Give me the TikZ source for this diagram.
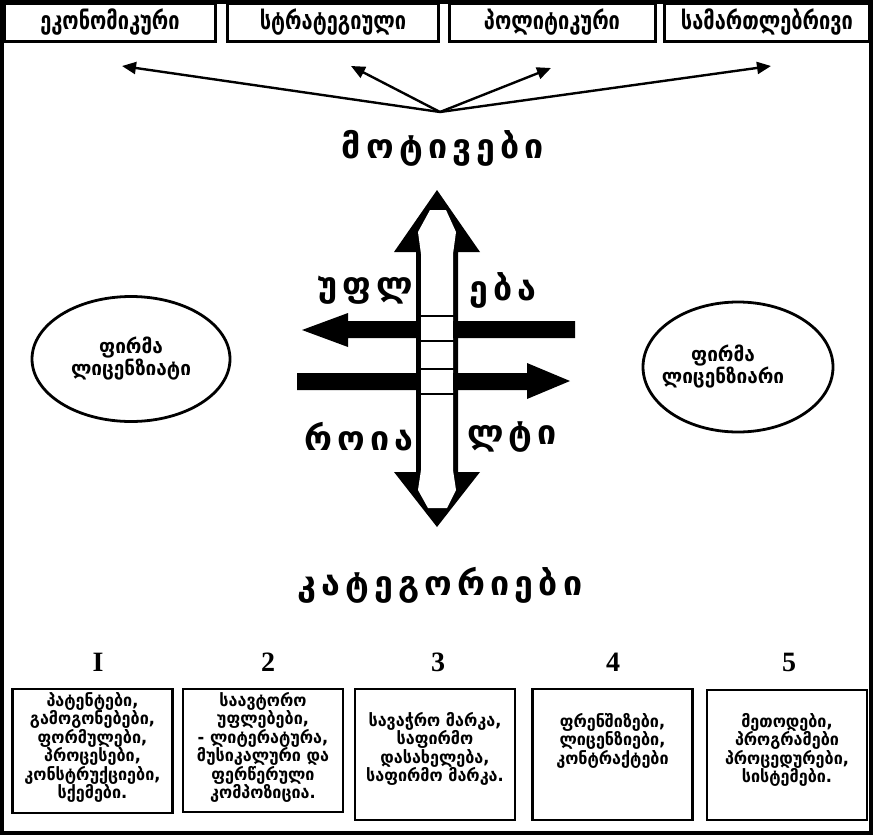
\documentclass[tikz,border=0pt]{standalone}
\usepackage{fontspec}
\setmainfont{DejaVu Sans}
\newfontfamily\geofont[FakeStretch=0.8]{DejaVu Sans}
\newfontfamily\geotext[FakeStretch=0.95]{DejaVu Sans}
\newfontfamily\geowide[LetterSpace=15]{DejaVu Sans}
\newfontfamily\numfont{Liberation Serif}
\usetikzlibrary{arrows.meta,shapes.geometric}

\begin{document}
\begin{tikzpicture}[x=1pt,y=-1pt,header/.style={draw,line width=3pt,fill=white,minimum width=#1,minimum height=38pt,inner sep=0pt,font=\geofont\bfseries\fontsize{25}{25}\selectfont},motive/.style={-{Triangle[length=14pt,width=12pt]},line width=2.4pt},spaced/.style={font=\geowide\bfseries\fontsize{34}{34}\selectfont,inner sep=0pt},firm/.style={ellipse,draw,line width=2.8pt,minimum width=#1,inner sep=0pt},firmtext/.style={font=\geotext\bfseries\fontsize{20}{22}\selectfont,align=center,inner sep=0pt},catbox/.style={draw,line width=2.2pt,minimum width=160pt,minimum height=#1,inner sep=0pt},cattext/.style={font=\geotext\bfseries\fontsize{17}{18.5}\selectfont,align=center,anchor=north,inner sep=0pt},num/.style={font=\numfont\bfseries\fontsize{28}{28}\selectfont,inner sep=0pt}]
\useasboundingbox (0,0) rectangle (873,836);
\draw[line width=4pt] (2,2) rectangle (871,833);
% motives
\node[header=211pt] (eco) at (110,22) {ეკონომიკური};
\node[header=211pt] (str) at (333,22) {სტრატეგიული};
\node[header=206pt] (pol) at (552,22) {პოლიტიკური};
\node[header=205pt] (law) at (767,22) {სამართლებრივი};
\coordinate (hub) at (440,112);
\coordinate (m1) at (122,66);
\coordinate (m2) at (351,66);
\coordinate (m3) at (551,68);
\coordinate (m4) at (771,66);
\draw[motive] (hub) -- (m1);
\draw[motive] (hub) -- (m2);
\draw[motive] (hub) -- (m3);
\draw[motive] (hub) -- (m4);
\node[spaced] (mot) at (443,148) {მოტივები};
% rights and royalty
\fill (437,190) -- (480,252) -- (458,252) -- (458,472) -- (480,472) -- (437,527) -- (394,472) -- (416,472) -- (416,252) -- (394,252) -- cycle;
\fill[white] (430,210) -- (446,210) -- (456,232) -- (453,254) -- (453,470) -- (456,490) -- (447,508) -- (428,508) -- (418,490) -- (421,470) -- (421,254) -- (418,232) -- cycle;
\fill (575,321) -- (348,321) -- (348,313) -- (302,330) -- (348,347) -- (348,338) -- (575,338) -- cycle;
\fill (297,373) -- (527,373) -- (527,363) -- (570,381) -- (527,399) -- (527,390) -- (297,390) -- cycle;
\fill[white] (421,318) rectangle (453,339);
\fill[white] (421,371) rectangle (453,392);
\draw[line width=1.6pt] (416,316) -- (458,316);
\draw[line width=1.6pt] (416,341) -- (458,341);
\draw[line width=1.6pt] (416,369) -- (458,369);
\draw[line width=1.6pt] (416,394) -- (458,394);
\node[spaced] (upl) at (365,290) {უფლ};
\node[spaced] (eba) at (503,290) {ება};
\node[spaced] (roia) at (359,437) {როია};
\node[spaced] (lti) at (512,437) {ლტი};
% firms
\coordinate (L) at (131,359);
\coordinate (R) at (738,367);
\node[firm=198pt,minimum height=125pt] (licensee) at (L) {};
\node[firmtext] at (L) {ფირმა\\ლიცენზიატი};
\node[firm=190pt,minimum height=130pt] (licensor) at (R) {};
\node[firmtext,xshift=-15pt] at (R) {ფირმა\\ლიცენზიარი};
% categories
\node[spaced] (cat) at (440,585) {კატეგორიები};
\node[num] (n1) at (98,662) {I};
\node[num] (n2) at (268,662) {2};
\node[num] (n3) at (438,662) {3};
\node[num] (n4) at (613,662) {4};
\node[num] (n5) at (789,662) {5};
\node[catbox=124pt] (c1) at (92.5,751) {};
\node[catbox=123pt] (c2) at (263,750.5) {};
\node[catbox=131pt] (c3) at (435,754.5) {};
\node[catbox=131pt] (c4) at (612.5,754.5) {};
\node[catbox=130pt] (c5) at (787,755) {};
\node[cattext] at ([yshift=-4pt]c1.north) {პატენტები,\\გამოგონებები,\\ფორმულები,\\პროცესები,\\კონსტრუქციები,\\სქემები.};
\node[cattext] at ([yshift=-4pt]c2.north) {საავტორო\\უფლებები,\\- ლიტერატურა,\\მუსიკალური და\\ფერწერული\\კომპოზიცია.};
\node[cattext] at ([yshift=-24pt]c3.north) {სავაჭრო მარკა,\\საფირმო\\დასახელება,\\საფირმო მარკა.};
\node[cattext] at ([yshift=-25pt]c4.north) {ფრენშიზები,\\ლიცენზიები,\\კონტრაქტები};
\node[cattext] at ([yshift=-24pt]c5.north) {მეთოდები,\\პროგრამები\\პროცედურები,\\სისტემები.};
\end{tikzpicture}
\end{document}
